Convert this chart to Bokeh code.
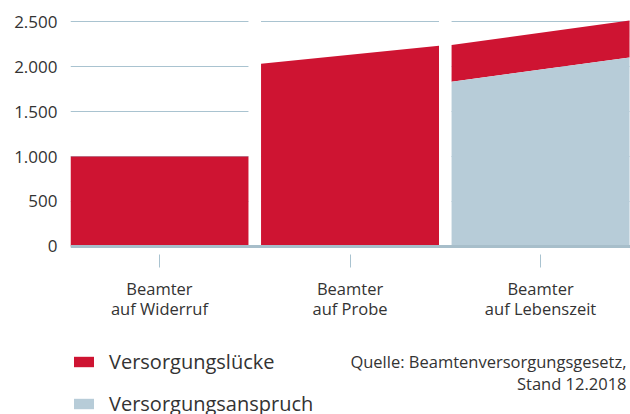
from bokeh.plotting import figure
from bokeh.layouts import column
from bokeh.models import Range1d, FixedTicker, Legend, LegendItem, Label, Span
from bokeh.embed import file_html
from bokeh.resources import INLINE

# ---- data ----
categories = ["Beamter\nauf Widerruf", "Beamter\nauf Probe", "Beamter\nauf Lebenszeit"]
anspruch_start = [0, 0, 1830]      # Versorgungsanspruch at left edge of column
anspruch_end = [0, 0, 2100]        # Versorgungsanspruch at right edge of column
luecke_start = [1000, 2030, 410]   # Versorgungslücke at left edge (stacked)
luecke_end = [1000, 2230, 410]     # Versorgungslücke at right edge (stacked)
y_ticks = [0, 500, 1000, 1500, 2000, 2500]
y_tick_labels = ["0", "500", "1.000", "1.500", "2.000", "2.500"]
series_names = ["Versorgungslücke", "Versorgungsanspruch"]
source_lines = ["Quelle: Beamtenversorgungsgesetz,", "Stand 12.2018"]

# ---- style ----
RED = "#CE1432"
BLUE = "#B7CCD8"
GRID = "#A9C3D0"
TEXT = "#333333"
FONT = "Open Sans"
HW = 0.467  # half width of a column

p = figure(width=630, height=330, output_backend="svg", toolbar_location=None,
           x_range=Range1d(-HW, 2.472), y_range=Range1d(-88.9, 2566.7),
           min_border_left=70, min_border_right=0, min_border_top=15,
           min_border_bottom=76)
p.frame_align = False
p.grid.visible = False
p.outline_line_color = None
p.background_fill_color = "white"
p.border_fill_color = "white"

# gridlines, broken at the gaps between columns
gx0, gx1, gy = [], [], []
for i in range(len(categories)):
    for t in y_ticks[1:]:
        gx0.append(i - HW)
        gx1.append(i + HW)
        gy.append(t)
p.segment(x0=gx0, y0=gy, x1=gx1, y1=gy, line_color=GRID, line_width=1)

# stacked trapezoid areas
a_xs, a_ys, l_xs, l_ys = [], [], [], []
for i in range(len(categories)):
    x0, x1 = i - HW, i + HW
    a0, a1 = anspruch_start[i], anspruch_end[i]
    t0, t1 = a0 + luecke_start[i], a1 + luecke_end[i]
    a_xs.append([x0, x1, x1, x0])
    a_ys.append([0, 0, a1, a0])
    l_xs.append([x0, x1, x1, x0])
    l_ys.append([a0, a1, t1, t0])

p.patches(xs=l_xs, ys=l_ys, fill_color=RED, line_color=None)
p.patches(xs=a_xs, ys=a_ys, fill_color=BLUE, line_color=None)

# baseline
p.add_layout(Span(location=0, dimension="width", line_color="#A7BECA", line_width=3))

# axes
p.yaxis.ticker = FixedTicker(ticks=y_ticks)
p.yaxis.major_label_overrides = {t: l for t, l in zip(y_ticks, y_tick_labels)}
p.yaxis.axis_line_color = None
p.yaxis.major_tick_line_color = None
p.yaxis.major_tick_in = 0
p.yaxis.major_tick_out = 0
p.yaxis.minor_tick_line_color = None
p.yaxis.major_label_standoff = 13
p.yaxis.major_label_text_font_size = "17px"

p.xaxis.ticker = FixedTicker(ticks=list(range(len(categories))))
p.xaxis.major_label_overrides = {i: c for i, c in enumerate(categories)}
p.xaxis.axis_line_color = None
p.xaxis.major_tick_line_color = GRID
p.xaxis.major_tick_in = 0
p.xaxis.major_tick_out = 13
p.xaxis.minor_tick_line_color = None
p.xaxis.major_label_standoff = 9
p.xaxis.major_label_text_font_size = "16.5px"
p.xaxis.major_label_text_line_height = 0.9

for ax in (p.xaxis, p.yaxis):
    ax.major_label_text_font = FONT
    ax.major_label_text_color = TEXT

# ---- bottom strip: legend and source note ----
p2 = figure(width=630, height=84, output_backend="svg", toolbar_location=None,
            x_range=Range1d(0, 630), y_range=Range1d(0, 84),
            min_border_left=0, min_border_right=0, min_border_top=0,
            min_border_bottom=0)
p2.frame_align = False
p2.axis.visible = False
p2.grid.visible = False
p2.outline_line_color = None
p2.background_fill_color = "white"
p2.border_fill_color = "white"

# key renderers (one empty polygon each) that only feed the legend swatches
k_l = p2.patches(xs=[[]], ys=[[]], fill_color=RED, line_color=None)
k_a = p2.patches(xs=[[]], ys=[[]], fill_color=BLUE, line_color=None)

legend = Legend(items=[LegendItem(label=series_names[0], renderers=[k_l]),
                       LegendItem(label=series_names[1], renderers=[k_a])],
                location=(71, -3), orientation="vertical",
                glyph_width=25, glyph_height=13, label_height=24,
                label_standoff=13, spacing=15, padding=0, margin=0,
                border_line_color=None, background_fill_alpha=0,
                label_text_font=FONT, label_text_font_size="20px",
                label_text_color=TEXT)
p2.add_layout(legend)

for k, line in enumerate(source_lines):
    p2.add_layout(Label(x=626, y=53 - 22 * k, x_units="screen", y_units="screen",
                        text=line, text_align="right", text_baseline="alphabetic",
                        text_font=FONT, text_font_size="16.5px", text_color=TEXT))

open("out.html", "w").write(file_html(column(p, p2), INLINE))
